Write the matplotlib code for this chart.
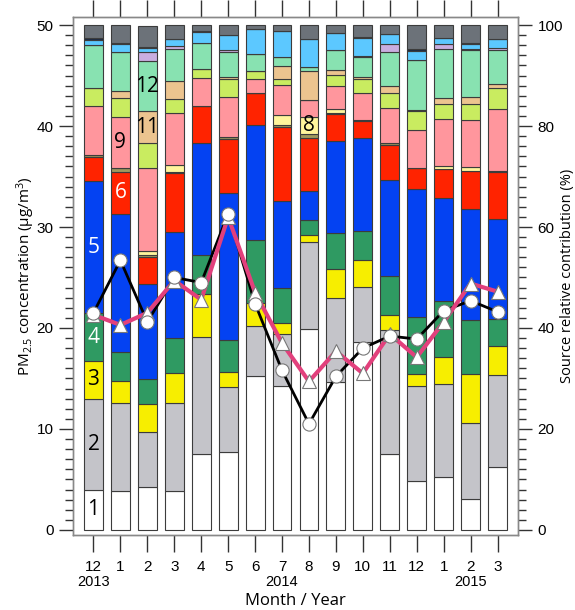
import matplotlib
matplotlib.use('Agg')
import matplotlib.pyplot as plt
import numpy as np
from matplotlib.ticker import MultipleLocator

plt.rcParams['font.family'] = ['Liberation Sans', 'DejaVu Sans']
plt.rcParams['mathtext.fontset'] = 'custom'
plt.rcParams['mathtext.rm'] = 'Open Sans'
plt.rcParams['mathtext.it'] = 'Open Sans:italic'

# ---------------- data ----------------
months = ['12', '1', '2', '3', '4', '5', '6', '7', '8', '9', '10', '11', '12', '1', '2', '3']
year_labels = ['2013', '2014', '2015']
year_pos = [0, 7, 14]

# source relative contribution (%) for sources 1..16, per month
s1 = [7.9, 7.8, 8.4, 7.7, 15.0, 15.4, 30.4, 28.5, 39.8, 29.2, 37.3, 15.0, 9.6, 10.4, 6.1, 12.5]
s2 = [18.0, 17.3, 10.9, 17.5, 23.2, 13.0, 10.0, 10.3, 17.3, 16.7, 10.9, 24.6, 18.9, 18.5, 15.1, 18.1]
s3 = [7.6, 4.3, 5.6, 5.8, 8.5, 2.8, 4.5, 2.1, 1.4, 5.7, 5.3, 3.0, 2.4, 5.4, 9.7, 5.9]
s4 = [9.4, 5.9, 5.0, 7.0, 7.8, 6.4, 12.5, 7.0, 2.9, 7.3, 5.8, 7.7, 11.3, 11.1, 10.7, 5.2]
s5 = [26.2, 27.3, 18.9, 21.1, 22.1, 29.1, 22.9, 17.3, 5.7, 18.1, 18.4, 19.0, 25.3, 20.4, 21.9, 19.9]
s6 = [4.8, 8.3, 5.3, 11.5, 7.4, 10.7, 6.2, 14.7, 10.5, 5.3, 3.3, 6.9, 4.2, 5.7, 7.5, 9.2]
s7 = [0.4, 0.7, 0.3, 0.2, 0.0, 0.5, 0.0, 0.3, 0.8, 0.2, 0.2, 0.4, 0.0, 0.0, 0.0, 0.3]
s8 = [0.0, 0.0, 0.9, 1.5, 0.0, 0.0, 0.0, 2.0, 3.4, 0.9, 0.0, 0.0, 0.0, 0.6, 0.8, 0.0]
s9 = [9.7, 10.2, 16.3, 10.2, 5.5, 7.8, 2.8, 5.9, 3.3, 4.5, 5.3, 6.9, 7.5, 9.3, 9.4, 12.3]
s10 = [3.5, 3.7, 5.0, 2.9, 1.8, 3.7, 1.6, 1.3, 0.0, 2.2, 2.8, 3.0, 3.8, 2.9, 3.1, 4.2]
s11 = [0.0, 1.4, 6.3, 3.5, 0.0, 0.3, 0.0, 2.5, 5.8, 1.0, 0.5, 1.5, 0.2, 1.2, 1.4, 0.8]
s12 = [8.5, 7.7, 9.9, 6.3, 5.2, 5.0, 3.3, 1.8, 0.7, 3.9, 3.8, 6.6, 9.9, 9.7, 9.3, 6.6]
s13 = [0.0, 0.0, 1.8, 0.6, 0.0, 0.4, 0.0, 0.0, 0.0, 0.0, 0.3, 1.6, 0.0, 1.0, 0.3, 0.4]
s14 = [1.1, 1.6, 0.8, 1.4, 2.1, 2.9, 5.1, 5.2, 5.6, 3.5, 3.5, 2.0, 1.8, 1.2, 0.9, 1.8]
s15 = [0.3, 0.3, 0.3, 0.0, 0.3, 0.0, 0.0, 0.0, 0.0, 0.0, 0.3, 0.0, 0.3, 0.0, 0.3, 0.0]
s16 = [2.6, 3.5, 4.2, 2.8, 1.1, 2.0, 0.7, 1.1, 2.8, 1.5, 2.3, 1.8, 4.8, 2.6, 3.5, 2.8]

# PM2.5 concentration (ug/m3)
pm_circle = [21.5, 26.7, 20.6, 25.0, 24.5, 31.3, 22.4, 15.8, 10.5, 15.2, 18.0, 19.2, 18.9, 21.7, 22.7, 21.6]
pm_triangle = [21.3, 20.3, 21.5, 24.7, 22.8, 31.0, 23.5, 18.5, 14.7, 17.7, 15.5, 19.4, 17.1, 20.6, 24.4, 23.6]

sources = [s1, s2, s3, s4, s5, s6, s7, s8, s9, s10, s11, s12, s13, s14, s15, s16]
colors = ['#ffffff', '#c4c4c9', '#f7ee00', '#2f9a62', '#0442f2', '#ff2300',
          '#a09a5e', '#fff59c', '#ff969d', '#c9ec60', '#ecc48f', '#88e2b1',
          '#c9aee0', '#5cc8ff', '#1c2b44', '#6c7279']

# labels: (text, bar index, source index, colour)
seg_labels = [('1', 0, 0, 'black'), ('2', 0, 1, 'black'), ('3', 0, 2, 'black'),
              ('4', 0, 3, 'white'), ('5', 0, 4, 'white'), ('6', 1, 5, 'white'),
              ('9', 1, 8, 'black'), ('11', 2, 10, 'black'), ('12', 2, 11, 'black'),
              ('8', 8, 7, 'black')]

# ---------------- figure ----------------
W, H = 575, 610
fig = plt.figure(figsize=(W / 100, H / 100), dpi=100)
ax = fig.add_axes([73 / W, 1 - 535 / H, (518 - 73) / W, (535 - 17) / H])
ax2 = ax.twinx()

x = np.arange(len(months))
bottom = np.zeros(len(months))
bottoms = []
for vals, c in zip(sources, colors):
    vals = np.array(vals)
    bottoms.append(bottom.copy())
    ax.bar(x, vals, 0.7, bottom=bottom, color=c, edgecolor='#3c3c3c',
           linewidth=0.8, zorder=2)
    bottom = bottom + vals

for txt, bi, si, col in seg_labels:
    yc = bottoms[si][bi] + sources[si][bi] / 2
    ax.text(x[bi], yc, txt, ha='center', va='center', fontsize=15,
            color=col, family='Open Sans', zorder=3)

ax.set_xlim(-0.76, len(months) - 1 + 0.76)
ax.set_ylim(-1.01, 101.6)
ax2.set_ylim(-0.505, 50.8)

# right axis (percent)
ax.yaxis.tick_right()
ax.yaxis.set_major_locator(MultipleLocator(20))
ax.yaxis.set_minor_locator(MultipleLocator(2))

# left axis (concentration)
ax2.yaxis.tick_left()
ax2.yaxis.set_major_locator(MultipleLocator(10))
ax2.yaxis.set_minor_locator(MultipleLocator(1))

for a in (ax, ax2):
    a.tick_params(axis='y', which='major', length=10, width=1, direction='out',
                  labelsize=11, color='#333333', pad=4)
    a.tick_params(axis='y', which='minor', length=6, width=1, direction='out',
                  color='#333333')
    for sp in a.spines.values():
        sp.set_color('#888888')
        sp.set_linewidth(1.0)

fig.text(567 / W, 1 - 276 / H, 'Source relative contribution (%)', rotation=90,
         ha='center', va='center', fontsize=10.5, family='Open Sans')
fig.text(26 / W, 1 - 276 / H, 'PM$_{2.5}$ concentration (μg/m$^3$)', rotation=90,
         ha='center', va='center', fontsize=11, family='Open Sans')

ax.set_xticks(x)
ax.set_xticklabels(months)
ax.tick_params(axis='x', which='major', top=True, bottom=True, labeltop=False,
               direction='out', length=12, width=1, color='#333333',
               labelsize=11, pad=6)

xt = ax.get_xaxis_transform()
for lab, p in zip(year_labels, year_pos):
    ax.text(p, -0.091, lab, transform=xt, ha='center', va='center', fontsize=10.5)

fig.text((73 + 518) / 2 / W, 1 - 601 / H, 'Month / Year', ha='center', va='center',
         fontsize=12, family='Open Sans')

# lines
ax2.plot(x, pm_circle, color='black', lw=2, zorder=3)
ax2.plot(x, pm_triangle, color='#e2407c', lw=3, zorder=4)
ax2.plot(x, pm_triangle, ls='none', marker='^', ms=10, mfc='white',
         mec='#777777', mew=0.8, zorder=5)
ax2.plot(x, pm_circle, ls='none', marker='o', ms=9.5, mfc='white',
         mec='#777777', mew=0.8, zorder=6)

fig.savefig('out.png', dpi=100)
